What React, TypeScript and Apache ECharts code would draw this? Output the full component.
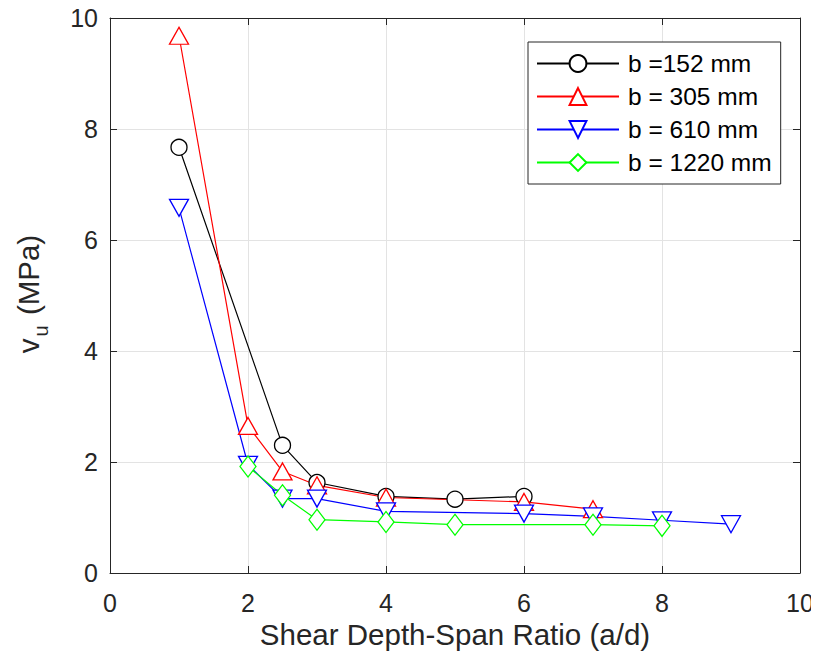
import React, { useEffect, useRef } from "react";
import * as echarts from "echarts";

const seriesNames = ["b =152 mm", "b = 305 mm", "b = 610 mm", "b = 1220 mm"];
const x152 = [1, 2.5, 3, 4, 5, 6];
const y152 = [7.67, 2.3, 1.63, 1.38, 1.33, 1.38];
const x305 = [1, 2, 2.5, 3, 4, 6, 7];
const y305 = [9.68, 2.65, 1.83, 1.58, 1.36, 1.28, 1.15];
const x610 = [1, 2, 2.5, 3, 4, 6, 7, 8, 9];
const y610 = [6.58, 1.95, 1.34, 1.34, 1.11, 1.07, 1.02, 0.95, 0.88];
const x1220 = [2, 2.5, 3, 4, 5, 7, 8];
const y1220 = [1.92, 1.4, 0.96, 0.92, 0.87, 0.87, 0.85];

const xTitle = "Shear Depth-Span Ratio (a/d)";

const pairs = (xs: number[], ys: number[]) => xs.map((x, i) => [x, ys[i]]);

export default function App() {
  const ref = useRef<HTMLDivElement>(null);
  useEffect(() => {
    if (!ref.current) return;
    const chart = echarts.init(ref.current, undefined, { renderer: "svg" });
    const font = "Liberation Sans, Arial, Helvetica, sans-serif";
    const axisColor = "#262626";
    const mk = (
      name: string,
      data: number[][],
      color: string,
      symbol: string,
      size: number | number[],
      rotate = 0
    ) => ({
      type: "line",
      name,
      data,
      symbol,
      symbolSize: size,
      symbolRotate: rotate,
      showAllSymbol: true,
      lineStyle: { color, width: 1.2 },
      itemStyle: { color: "#ffffff", borderColor: color, borderWidth: 1.3 },
      emphasis: { disabled: true },
    });
    const baseX = {
      type: "value",
      min: 0,
      max: 10,
      interval: 2,
      axisLine: { show: true, onZero: false, lineStyle: { color: axisColor, width: 1 } },
      axisTick: { show: true, inside: true, length: 7, lineStyle: { color: axisColor } },
    };
    const baseY = {
      type: "value",
      min: 0,
      max: 10,
      interval: 2,
      axisLine: { show: true, onZero: false, lineStyle: { color: axisColor, width: 1 } },
      axisTick: { show: true, inside: true, length: 7, lineStyle: { color: axisColor } },
    };
    chart.setOption({
      animation: false,
      backgroundColor: "#ffffff",
      textStyle: { fontFamily: font },
      grid: { left: 110, top: 18, width: 690, height: 555, containLabel: false },
      xAxis: [
        {
          ...baseX,
          position: "bottom",
          axisLabel: { color: axisColor, fontSize: 25, margin: 17, fontFamily: font },
          splitLine: { show: true, lineStyle: { color: "#e3e3e3", width: 1 } },
          name: xTitle,
          nameLocation: "middle",
          nameGap: 45,
          nameTextStyle: { color: axisColor, fontSize: 29.5, fontFamily: font },
        },
        {
          ...baseX,
          position: "top",
          axisLabel: { show: false },
          splitLine: { show: false },
        },
      ],
      yAxis: [
        {
          ...baseY,
          position: "left",
          axisLabel: { color: axisColor, fontSize: 25, margin: 12, fontFamily: font },
          splitLine: { show: true, lineStyle: { color: "#e3e3e3", width: 1 } },
        },
        {
          ...baseY,
          position: "right",
          axisLabel: { show: false },
          splitLine: { show: false },
        },
      ],
      legend: {
        orient: "vertical",
        left: 528,
        top: 42,
        padding: [9, 9, 9, 8],
        itemWidth: 82,
        itemHeight: 21,
        itemGap: 8,
        backgroundColor: "#ffffff",
        borderColor: axisColor,
        borderWidth: 1,
        textStyle: { color: "#000000", fontSize: 24.5, fontFamily: font, padding: [0, 0, 0, 4] },
        data: seriesNames,
      },
      graphic: [
        {
          type: "text",
          x: 29,
          y: 294,
          rotation: Math.PI / 2,
          style: {
            text: "{v|v}{s|u}{t| (MPa)}",
            align: "center",
            verticalAlign: "middle",
            fill: axisColor,
            rich: {
              v: { fontSize: 29.5, lineHeight: 32, verticalAlign: "top", fontFamily: font, fill: axisColor },
              s: { fontSize: 20, lineHeight: 21, padding: [18, 2, 0, 2], verticalAlign: "top", fontFamily: font, fill: axisColor },
              t: { fontSize: 29.5, lineHeight: 32, verticalAlign: "top", fontFamily: font, fill: axisColor },
            },
          },
        },
      ],
      series: [
        mk(seriesNames[0], pairs(x152, y152), "#000000", "circle", 16),
        mk(seriesNames[1], pairs(x305, y305), "#ff0000", "triangle", [19, 17]),
        mk(seriesNames[2], pairs(x610, y610), "#0000ff", "triangle", [19, 17], 180),
        mk(seriesNames[3], pairs(x1220, y1220), "#00ff00", "diamond", [16, 21]),
      ],
    });
    return () => chart.dispose();
  }, []);
  return <div ref={ref} style={{ width: 819, height: 665, margin: -8 }} />;
}
